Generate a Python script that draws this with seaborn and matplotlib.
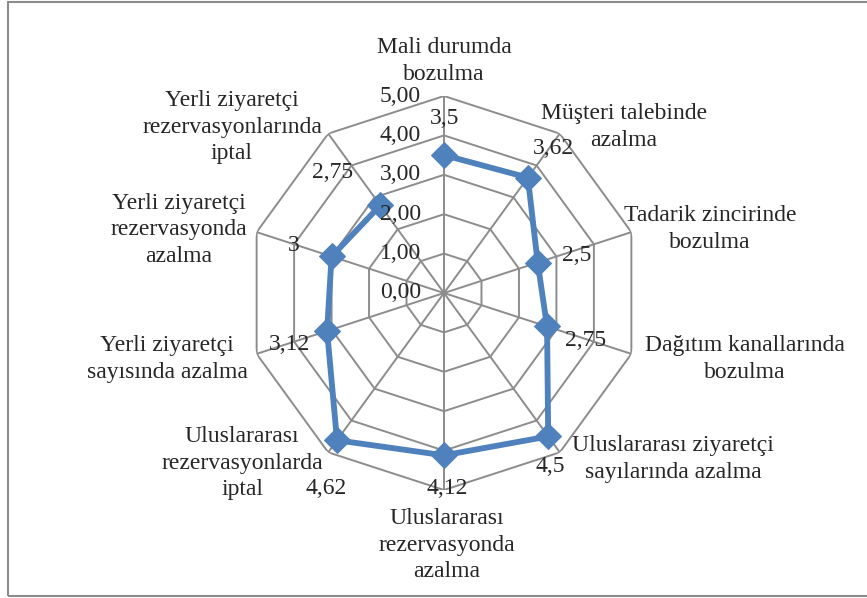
import matplotlib
matplotlib.use("Agg")
import matplotlib.pyplot as plt
import matplotlib.patches as patches
import seaborn as sns
import numpy as np
import pandas as pd

# Data
kategoriler = [
    "Mali durumda\nbozulma",
    "Müşteri talebinde\nazalma",
    "Tadarik zincirinde\nbozulma",
    "Dağıtım kanallarında\nbozulma",
    "Uluslararası ziyaretçi\nsayılarında azalma",
    "Uluslararası\nrezervasyonda\nazalma",
    "Uluslararası\nrezervasyonlarda\niptal",
    "Yerli ziyaretçi\nsayısında azalma",
    "Yerli ziyaretçi\nrezervasyonda\nazalma",
    "Yerli ziyaretçi\nrezervasyonlarında\niptal",
]
degerler = [3.5, 3.62, 2.5, 2.75, 4.5, 4.12, 4.62, 3.12, 3.0, 2.75]
eksen_degerleri = [0, 1, 2, 3, 4, 5]

# Layout (pixel positions of the text blocks in the 867x598 picture)
W, H = 867, 598
cx, cy, R = 444, 293, 197
kategori_yer = [(444, 61), (624, 127), (710, 229), (745, 359), (673, 459),
                (447, 545), (242, 463), (167, 359), (179, 230), (232, 127)]
deger_yer = [(445, 118), (553, 149), (577, 256), (586, 341), (550, 467),
             (447, 488), (326, 488), (289, 345), (294, 245), (333, 172)]

sns.set_style("white")
plt.rcParams["font.family"] = ["Liberation Serif", "DejaVu Serif"]

mavi = "#4F81BD"
gri = "#8C8C8C"
yazi = 17

fig = plt.figure(figsize=(W / 100, H / 100), dpi=100)
ax = fig.add_axes([(cx - R) / W, (H - cy - R) / H, 2 * R / W, 2 * R / H],
                  projection="polar")
ax.set_theta_zero_location("N")
ax.set_theta_direction(-1)
ax.set_ylim(0, 5)
ax.grid(False)
ax.spines["polar"].set_visible(False)
ax.set_xticks([])
ax.set_yticks([])
ax.set_facecolor("none")

n = len(kategoriler)
acilar = np.arange(n) * 2 * np.pi / n
kapali = np.append(acilar, acilar[0])

# decagon grid
for seviye in eksen_degerleri[1:]:
    ax.plot(kapali, [seviye] * (n + 1), color=gri, lw=1.4, zorder=1)
for a in acilar:
    ax.plot([a, a], [0, eksen_degerleri[-1]], color=gri, lw=1.4, zorder=1)

df = pd.DataFrame({"aci": kapali, "deger": degerler + [degerler[0]]})
sns.lineplot(data=df, x="aci", y="deger", sort=False, ax=ax, color=mavi,
             lw=4.2, marker="D", markersize=13, markeredgecolor=mavi,
             zorder=3)
ax.set_xlabel("")
ax.set_ylabel("")

# radial axis labels
for t in eksen_degerleri:
    ax.annotate(f"{t:.2f}".replace(".", ","), xy=(0, t), xytext=(-23, 0),
                textcoords="offset pixels", ha="right", va="center",
                fontsize=yazi, annotation_clip=False)

for etiket, (x, y) in zip(kategoriler, kategori_yer):
    fig.text(x / W, 1 - y / H, etiket, ha="center", va="center",
             multialignment="center", fontsize=yazi, linespacing=1.36)

for v, (x, y) in zip(degerler, deger_yer):
    fig.text(x / W, 1 - y / H, f"{v:g}".replace(".", ","), ha="center",
             va="center", fontsize=yazi)

fig.patches.append(patches.Rectangle((8 / W, 2 / H), 1.2, (596 - 2) / H,
                                     transform=fig.transFigure, fill=False,
                                     edgecolor=gri, lw=1.5))

fig.savefig("out.png", dpi=100, facecolor="white")
